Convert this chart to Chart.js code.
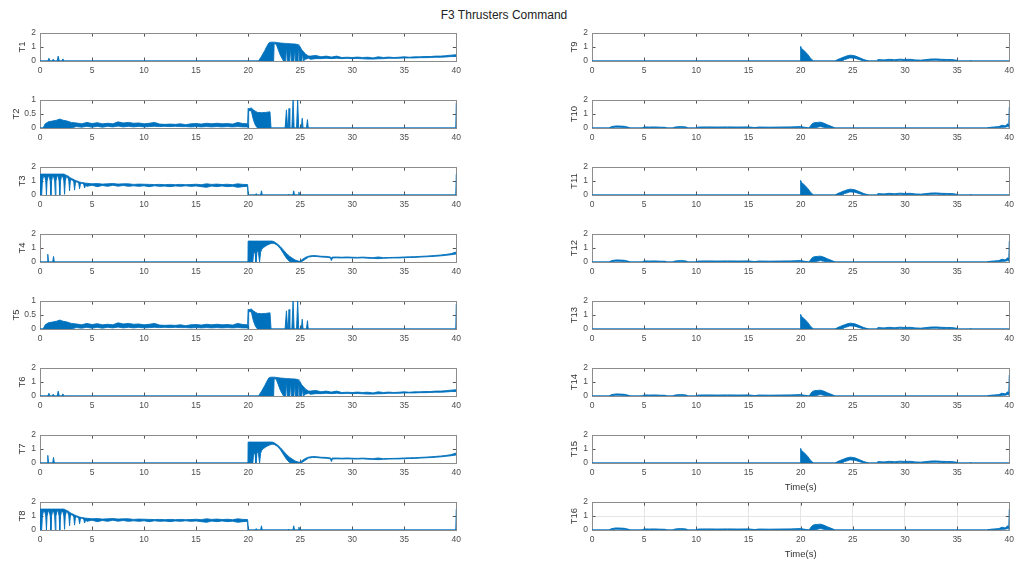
<!DOCTYPE html>
<html>
<head>
<meta charset="utf-8">
<script src="https://cdn.jsdelivr.net/npm/chart.js@4.4.1/dist/chart.umd.min.js"></script>
<style>
body { margin: 0; background: #fff; }
#fig { position: relative; width: 1019px; height: 562px; overflow: hidden; font-family: "Liberation Sans", Arial, sans-serif; }
#title { position: absolute; left: 0; top: 7px; width: 1008px; text-align: center; font-size: 12px; line-height: 16px; color: #222; }
canvas { position: absolute; }
</style>
</head>
<body>
<div id="fig"><div id="title">F3 Thrusters Command</div></div>
<script>
Chart.defaults.font.family = "Liberation Sans";

// T1 / T6
const t1Time = [0, 0.75, 0.86, 0.95, 1.18, 1.27, 1.36, 1.65, 1.75, 1.85, 2.1, 2.2, 2.3,
    21.0, 21.3, 21.6, 21.8, 22.0, 22.2, 22.45, 22.5, 22.7, 22.9, 23.1, 23.4,
    23.6, 23.68, 23.76, 24.0, 24.08, 24.16, 24.4, 24.48, 24.56, 24.8, 24.88, 24.96, 25.15, 25.23, 25.31, 25.5, 25.8,
    26.0, 26.5, 27.0, 27.5, 28.0, 28.5, 29.0, 29.5, 30.0, 30.5, 31.0, 31.5, 32.0, 32.5, 33.0, 33.5, 34.0, 34.5,
    35.0, 35.5, 36.0, 36.5, 37.0, 37.5, 38.0, 38.5, 39.0, 39.5, 40.0];
const t1Hi = [0, 0, 0.2, 0, 0, 0.13, 0, 0, 0.35, 0, 0, 0.15, 0,
    0, 0.35, 0.75, 1.05, 1.3, 1.35, 1.35, 1.35, 1.33, 1.31, 1.29, 1.27,
    1.26, 1.26, 1.25, 1.24, 1.24, 1.23, 1.22, 1.22, 1.21, 1.17, 1.12, 1.06, 0.8, 0.74, 0.68, 0.5, 0.36,
    0.35, 0.4, 0.3, 0.35, 0.28, 0.35, 0.25, 0.27, 0.25, 0.28, 0.25, 0.27, 0.22, 0.3, 0.25, 0.28, 0.25, 0.27,
    0.3, 0.27, 0.3, 0.3, 0.32, 0.32, 0.35, 0.35, 0.38, 0.42, 0.45];
const t1Lo = [0, 0, 0, 0, 0, 0, 0, 0, 0, 0, 0, 0, 0,
    0, 0, 0, 0, 0, 0, 0, 1.25, 1.2, 0.8, 0.4, 0,
    0, 1.1, 0, 0, 1.0, 0, 0, 0.95, 0, 0, 0.85, 0, 0, 0.6, 0, 0.12, 0.2,
    0.12, 0.17, 0.17, 0.2, 0.17, 0.2, 0.17, 0.19, 0.17, 0.18, 0.16, 0.14, 0.14, 0.16, 0.17, 0.2, 0.19, 0.2,
    0.22, 0.22, 0.22, 0.24, 0.24, 0.25, 0.27, 0.27, 0.29, 0.32, 0.32];

// T2 / T5
const t2Time = [0, 0.3, 0.5, 0.8, 1.2, 1.6, 1.9, 2.2, 2.6, 3.0,
    3.5, 4.0, 4.5, 5.0, 5.5, 6.0, 6.5, 7.0, 7.5, 8.0, 8.5, 9.0, 9.5, 10.0, 10.5, 11.0, 11.5,
    12.0, 12.5, 13.0, 13.5, 14.0, 14.5, 15.0, 15.5, 16.0, 16.5, 17.0, 17.5, 18.0, 18.5, 19.0, 19.5, 19.95,
    20.0, 20.05, 20.3, 20.5, 20.7, 20.9, 21.3, 21.7, 22.1, 22.2,
    23.55, 23.68, 23.8, 23.85, 23.93, 24.0, 24.2, 24.32, 24.42, 24.65, 24.76, 24.86, 25.1, 25.2, 25.28, 25.6, 25.7, 25.78,
    39.95, 40];
const t2Hi = [0, 0, 0.15, 0.22, 0.25, 0.28, 0.32, 0.28, 0.25, 0.2,
    0.18, 0.15, 0.2, 0.16, 0.19, 0.15, 0.17, 0.15, 0.22, 0.18, 0.2, 0.17, 0.18, 0.15, 0.17, 0.2, 0.14,
    0.13, 0.14, 0.13, 0.15, 0.12, 0.15, 0.16, 0.14, 0.17, 0.15, 0.17, 0.15, 0.16, 0.14, 0.2, 0.16, 0.15,
    0.7, 0.68, 0.72, 0.65, 0.6, 0.56, 0.55, 0.56, 0.58, 0,
    0, 0.65, 0, 0, 0.7, 0, 0, 1.0, 0, 0, 1.0, 0, 0, 0.35, 0, 0, 0.3, 0,
    0, 0.9];
const t2Lo = [0, 0, 0, 0, 0, 0, 0, 0, 0, 0,
    0.05, 0.03, 0.06, 0.03, 0.06, 0.03, 0.06, 0.04, 0.07, 0.04, 0.06, 0.04, 0.06, 0.04, 0.05, 0.06, 0.05,
    0.06, 0.05, 0.06, 0.05, 0.05, 0.04, 0.05, 0.04, 0.05, 0.04, 0.05, 0.04, 0.05, 0.04, 0.05, 0.04, 0.04,
    0, 0.62, 0.62, 0.3, 0.1, 0, 0, 0, 0, 0,
    0, 0, 0, 0, 0, 0, 0, 0, 0, 0, 0, 0, 0, 0, 0, 0, 0, 0,
    0, 0];

// T3 / T8
const t3Time = [0, 0.16, 0.23, 0.32, 0.39, 0.46, 0.55, 0.62, 0.68, 0.77, 0.83, 0.9, 0.98, 1.05, 1.11, 1.2,
    1.26, 1.32, 1.41, 1.47, 1.53, 1.62, 1.68, 1.75, 1.84, 1.9, 1.97, 2.06, 2.13, 2.2, 2.29, 2.36,
    2.43, 2.52, 2.6, 2.68, 2.77, 2.84, 2.91, 3.0, 3.08, 3.16, 3.25, 3.32, 3.4, 3.5, 3.56, 3.64, 3.73, 3.8,
    3.88, 3.98, 4.05, 4.13, 4.22, 4.28, 4.4,
    4.5, 5.0, 5.5, 6.0, 6.5, 7.0, 7.5, 8.0, 8.5, 9.0, 9.5, 10.0, 10.5, 11.0, 11.5, 12.0,
    12.5, 13.0, 13.5, 14.0, 14.5, 15.0, 15.5, 16.0, 16.5, 17.0, 17.5, 18.0, 18.5, 19.0, 19.5, 19.95,
    20.0, 20.7, 20.78, 20.86, 21.2, 21.28, 21.36, 23.85, 23.9, 23.95, 24.3, 24.38, 24.46, 24.8, 24.88, 24.96,
    39.95, 40];
const t3Hi = [1.5, 1.5, 1.5, 1.5, 1.5, 1.5, 1.5, 1.5, 1.5, 1.5, 1.5, 1.5, 1.5, 1.5, 1.5, 1.5,
    1.5, 1.5, 1.5, 1.5, 1.5, 1.5, 1.5, 1.5, 1.5, 1.5, 1.5, 1.5, 1.5, 1.5, 1.5, 1.48,
    1.45, 1.42, 1.38, 1.35, 1.3, 1.28, 1.24, 1.2, 1.16, 1.13, 1.1, 1.08, 1.05, 1.02, 1.0, 0.98, 0.95, 0.93,
    0.92, 0.9, 0.89, 0.88, 0.87, 0.86, 0.85,
    0.84, 0.8, 0.82, 0.78, 0.8, 0.82, 0.78, 0.8, 0.8, 0.76, 0.78, 0.77, 0.76, 0.75, 0.76, 0.74,
    0.76, 0.74, 0.76, 0.74, 0.75, 0.77, 0.74, 0.8, 0.76, 0.78, 0.75, 0.77, 0.74, 0.8, 0.76, 0.75,
    0, 0, 0.1, 0, 0, 0.3, 0, 0, 0.06, 0, 0, 0.3, 0, 0, 0.2, 0,
    0, 1.5];
const t3Lo = [0, 0, 1.0, 1.3, 1.38, 1.3, 1.0, 0, 1.0, 1.3, 1.38, 1.3, 1.0, 0, 1.0, 1.3,
    1.38, 1.3, 1.0, 0, 1.0, 1.3, 1.38, 1.3, 1.0, 0, 1.0, 1.3, 1.38, 1.3, 1.0, 0.05,
    1.0, 1.28, 1.32, 1.25, 1.0, 0.3, 0.95, 1.1, 1.12, 1.05, 0.9, 0.35, 0.85, 0.95, 0.96, 0.92, 0.8, 0.45,
    0.75, 0.85, 0.86, 0.82, 0.72, 0.5, 0.72,
    0.62, 0.7, 0.6, 0.68, 0.62, 0.7, 0.63, 0.68, 0.62, 0.66, 0.62, 0.66, 0.6, 0.66, 0.62, 0.64,
    0.6, 0.65, 0.62, 0.66, 0.62, 0.65, 0.6, 0.55, 0.64, 0.6, 0.65, 0.6, 0.63, 0.55, 0.6, 0.62,
    0, 0, 0, 0, 0, 0, 0, 0, 0, 0, 0, 0, 0, 0, 0, 0,
    0, 0];

// T4 / T7
const t4Time = [0, 0.68, 0.75, 0.82, 1.22, 1.3, 1.38, 19.98,
    20.0, 20.45, 20.52, 20.6, 20.68, 20.75, 20.85, 20.93, 21.0, 21.1, 21.2, 21.3, 21.5, 21.8, 22.1, 22.3,
    22.5, 22.8, 23.1, 23.4, 23.7, 24.0, 24.2, 24.5, 24.8, 25.0,
    25.2, 25.5, 25.8, 26.2, 26.6, 27.0, 27.5, 27.9, 28.0, 28.1,
    28.5, 29.0, 29.5, 30.0, 30.5, 31.0, 31.5, 32.0, 32.5, 33.0, 33.5, 34.0,
    34.5, 35.0, 35.5, 36.0, 36.5, 37.0, 37.5, 38.0, 38.5, 39.0, 39.5, 40.0];
const t4Hi = [0, 0, 0.55, 0, 0, 0.4, 0, 0,
    1.5, 1.5, 1.5, 1.5, 1.5, 1.5, 1.5, 1.5, 1.5, 1.5, 1.5, 1.5, 1.5, 1.5, 1.5, 1.5,
    1.45, 1.3, 1.1, 0.85, 0.6, 0.4, 0.3, 0.15, 0.07, 0.05,
    0.18, 0.33, 0.42, 0.46, 0.45, 0.41, 0.4, 0.36, 0.3, 0.35,
    0.36, 0.34, 0.36, 0.34, 0.33, 0.35, 0.33, 0.31, 0.36, 0.31, 0.32, 0.33,
    0.34, 0.36, 0.37, 0.38, 0.4, 0.42, 0.44, 0.47, 0.5, 0.54, 0.6, 0.72];
const t4Lo = [0, 0, 0, 0, 0, 0, 0, 0,
    0, 0, 0.6, 0.75, 0.55, 0, 0.7, 0.85, 0.6, 0, 0.7, 0.9, 1.05, 1.2, 1.3, 1.35,
    1.33, 1.2, 0.95, 0.6, 0.25, 0.02, 0, 0, 0, 0,
    0.05, 0.2, 0.35, 0.4, 0.39, 0.36, 0.34, 0.3, 0.1, 0.29,
    0.3, 0.29, 0.3, 0.29, 0.28, 0.3, 0.27, 0.26, 0.24, 0.27, 0.28, 0.29,
    0.29, 0.31, 0.32, 0.33, 0.35, 0.37, 0.39, 0.41, 0.44, 0.48, 0.52, 0.58];

// T9 / T11 / T13 / T15
const t9Time = [0, 19.98, 20.0, 20.08, 20.4, 20.7, 21.0, 21.25,
    23.3, 23.6, 23.8, 24.0, 24.2, 24.4, 24.7, 24.8, 25.2, 25.6, 25.7, 26.0, 26.2, 26.4, 26.6,
    27.3, 27.4, 28.0, 28.5, 29.0, 29.5, 30.0, 30.5, 31.0, 31.5, 32.0, 32.5, 33.0, 33.5, 34.0, 34.5, 35.0, 35.1,
    36.25, 36.3, 36.35, 40];
const t9Hi = [0, 0, 1.05, 0.9, 0.7, 0.45, 0.15, 0,
    0, 0.12, 0.18, 0.25, 0.3, 0.36, 0.41, 0.42, 0.37, 0.25, 0.22, 0.12, 0.07, 0.03, 0,
    0, 0.1, 0.08, 0.12, 0.09, 0.13, 0.11, 0.12, 0.08, 0.06, 0.1, 0.14, 0.15, 0.12, 0.11, 0.1, 0.05, 0,
    0, 0.06, 0, 0];
const t9Lo = [0, 0, 0, 0, 0, 0, 0, 0,
    0, 0, 0, 0, 0.1, 0.14, 0.22, 0.22, 0.2, 0.1, 0.08, 0.02, 0, 0, 0,
    0, 0.03, 0.02, 0.04, 0.02, 0.05, 0.03, 0.04, 0.02, 0, 0.03, 0.05, 0.06, 0.04, 0.03, 0.03, 0, 0,
    0, 0, 0, 0];

// T10 / T12 / T14 / T16
const t10Time = [0, 1.6, 1.9, 2.3, 2.7, 3.1, 3.5, 3.7,
    4.8, 5.0, 5.5, 6.0, 6.5, 7.0, 7.2,
    7.7, 8.0, 8.5, 9.0, 9.2,
    9.9, 10.2, 11, 12, 13, 14, 15, 15.6, 16, 17, 18, 19, 20, 20.4, 20.8,
    21.1, 21.3, 21.6, 21.9, 22.2, 22.6, 23.0, 23.3,
    37.8, 38.2, 38.6, 39.0, 39.3, 39.6, 39.85, 39.95, 40];
const t10Hi = [0, 0, 0.1, 0.15, 0.14, 0.12, 0.05, 0,
    0, 0.08, 0.07, 0.08, 0.06, 0.05, 0,
    0, 0.08, 0.1, 0.08, 0,
    0, 0.07, 0.08, 0.07, 0.08, 0.07, 0.08, 0.03, 0.07, 0.06, 0.07, 0.08, 0.1, 0.05, 0,
    0.3, 0.38, 0.4, 0.42, 0.35, 0.22, 0.1, 0,
    0, 0.05, 0.08, 0.1, 0.2, 0.15, 0.3, 0.2, 1.5];
const t10Lo = [0, 0, 0.03, 0.06, 0.05, 0.04, 0, 0,
    0, 0.02, 0.03, 0.02, 0.02, 0, 0,
    0, 0.02, 0.03, 0.02, 0,
    0, 0.02, 0.03, 0.02, 0.03, 0.02, 0.03, 0, 0.02, 0.02, 0.03, 0.02, 0.03, 0, 0,
    0, 0, 0.05, 0.1, 0.05, 0.02, 0, 0,
    0, 0, 0.02, 0.03, 0.05, 0.06, 0.1, 0.1, 0];

const series = {
    s1: [t1Time, t1Lo, t1Hi],
    s2: [t2Time, t2Lo, t2Hi],
    s3: [t3Time, t3Lo, t3Hi],
    s4: [t4Time, t4Lo, t4Hi],
    s9: [t9Time, t9Lo, t9Hi],
    s10: [t10Time, t10Lo, t10Hi]
};

const thrusterNames = ["T1", "T2", "T3", "T4", "T5", "T6", "T7", "T8",
    "T9", "T10", "T11", "T12", "T13", "T14", "T15", "T16"];
const thrusterSeries = ["s1", "s2", "s3", "s4", "s2", "s1", "s4", "s3",
    "s9", "s10", "s9", "s10", "s9", "s10", "s9", "s10"];
const thrusterMax = [2, 1, 2, 2, 1, 2, 2, 2, 2, 2, 2, 2, 2, 2, 2, 2];
const xMax = 40;
const xStep = 5;

for (const k in series) {
    const [t, lo, hi] = series[k];
    if (t.length !== lo.length || t.length !== hi.length) {
        throw new Error(k + " lengths " + t.length + " " + lo.length + " " + hi.length);
    }
}

const blue = "#0072BD";
const tickColor = "#4d4d4d";

// MATLAB style box with inward ticks
const matlabBox = {
    id: "matlabBox",
    beforeDatasetsDraw(chart) {
        const {ctx, chartArea: a, scales} = chart;
        ctx.save();
        ctx.lineWidth = 1;
        ctx.strokeStyle = "#555";
        ctx.beginPath();
        scales.x.ticks.forEach(t => {
            const px = Math.round(scales.x.getPixelForValue(t.value)) + 0.5;
            ctx.moveTo(px, a.top);
            ctx.lineTo(px, a.top + 3.5);
            ctx.moveTo(px, a.bottom);
            ctx.lineTo(px, a.bottom - 3.5);
        });
        scales.y.ticks.forEach(t => {
            const py = Math.round(scales.y.getPixelForValue(t.value)) + 0.5;
            ctx.moveTo(a.left, py);
            ctx.lineTo(a.left + 3.5, py);
            ctx.moveTo(a.right, py);
            ctx.lineTo(a.right - 3.5, py);
        });
        ctx.stroke();
        ctx.strokeStyle = "#8c8c8c";
        ctx.strokeRect(Math.round(a.left) + 0.5, Math.round(a.top) + 0.5, Math.round(a.width), Math.round(a.height));
        ctx.restore();
    }
};

const fig = document.getElementById("fig");

thrusterNames.forEach((name, i) => {
    const col = i < 8 ? 0 : 1;
    const row = i % 8;
    const plotLeft = col ? 592 : 40;
    const plotW = col ? 421 : 420;
    const plotTop = Math.round(29.5 + row * 67.1);
    const plotH = 31;
    const hasTime = i === 14 || i === 15;
    const showGrid = i === 15;
    const xH = hasTime ? 34 : 18;

    const cv = document.createElement("canvas");
    cv.width = plotW + 46;
    cv.height = 6 + plotH + xH;
    cv.style.left = (plotLeft - 40) + "px";
    cv.style.top = (plotTop - 6) + "px";
    fig.appendChild(cv);

    const [t, lo, hi] = series[thrusterSeries[i]];
    const yMax = thrusterMax[i];

    new Chart(cv, {
        type: "line",
        data: {
            datasets: [
                {
                    data: t.map((x, j) => ({x: x, y: lo[j]})),
                    borderColor: blue,
                    borderWidth: 0.9,
                    pointRadius: 0,
                    fill: false
                },
                {
                    data: t.map((x, j) => ({x: x, y: hi[j]})),
                    borderColor: blue,
                    backgroundColor: blue,
                    borderWidth: 0.9,
                    pointRadius: 0,
                    fill: "-1"
                }
            ]
        },
        options: {
            responsive: false,
            animation: false,
            devicePixelRatio: 1,
            layout: {padding: {top: 6, right: 6, left: 0, bottom: 0}},
            elements: {line: {tension: 0, borderJoinStyle: "round"}},
            plugins: {legend: {display: false}, tooltip: {enabled: false}},
            scales: {
                x: {
                    type: "linear",
                    min: 0,
                    max: xMax,
                    afterFit: s => { s.height = xH; },
                    ticks: {stepSize: xStep, autoSkip: false, maxRotation: 0, padding: 5, color: tickColor, font: {size: 8.5}},
                    grid: {display: showGrid, drawOnChartArea: showGrid, drawTicks: false, color: "#e6e6e6"},
                    border: {display: false},
                    title: {display: hasTime, text: "Time(s)", color: "#333", font: {size: 9.5}, padding: {top: 0, bottom: 4}}
                },
                y: {
                    min: 0,
                    max: yMax,
                    afterFit: s => { s.width = 40; },
                    ticks: {
                        stepSize: yMax / 2,
                        padding: 4,
                        color: tickColor,
                        font: {size: 8.5},
                        callback: v => String(Number(v.toFixed(2)))
                    },
                    grid: {display: showGrid, drawOnChartArea: showGrid, drawTicks: false, color: "#e6e6e6"},
                    border: {display: false},
                    title: {display: true, text: name, color: "#333", font: {size: 9.5}, padding: {top: yMax === 1 ? 11 : 16.8, bottom: 0}}
                }
            }
        },
        plugins: [matlabBox]
    });
});
</script>
</body>
</html>
